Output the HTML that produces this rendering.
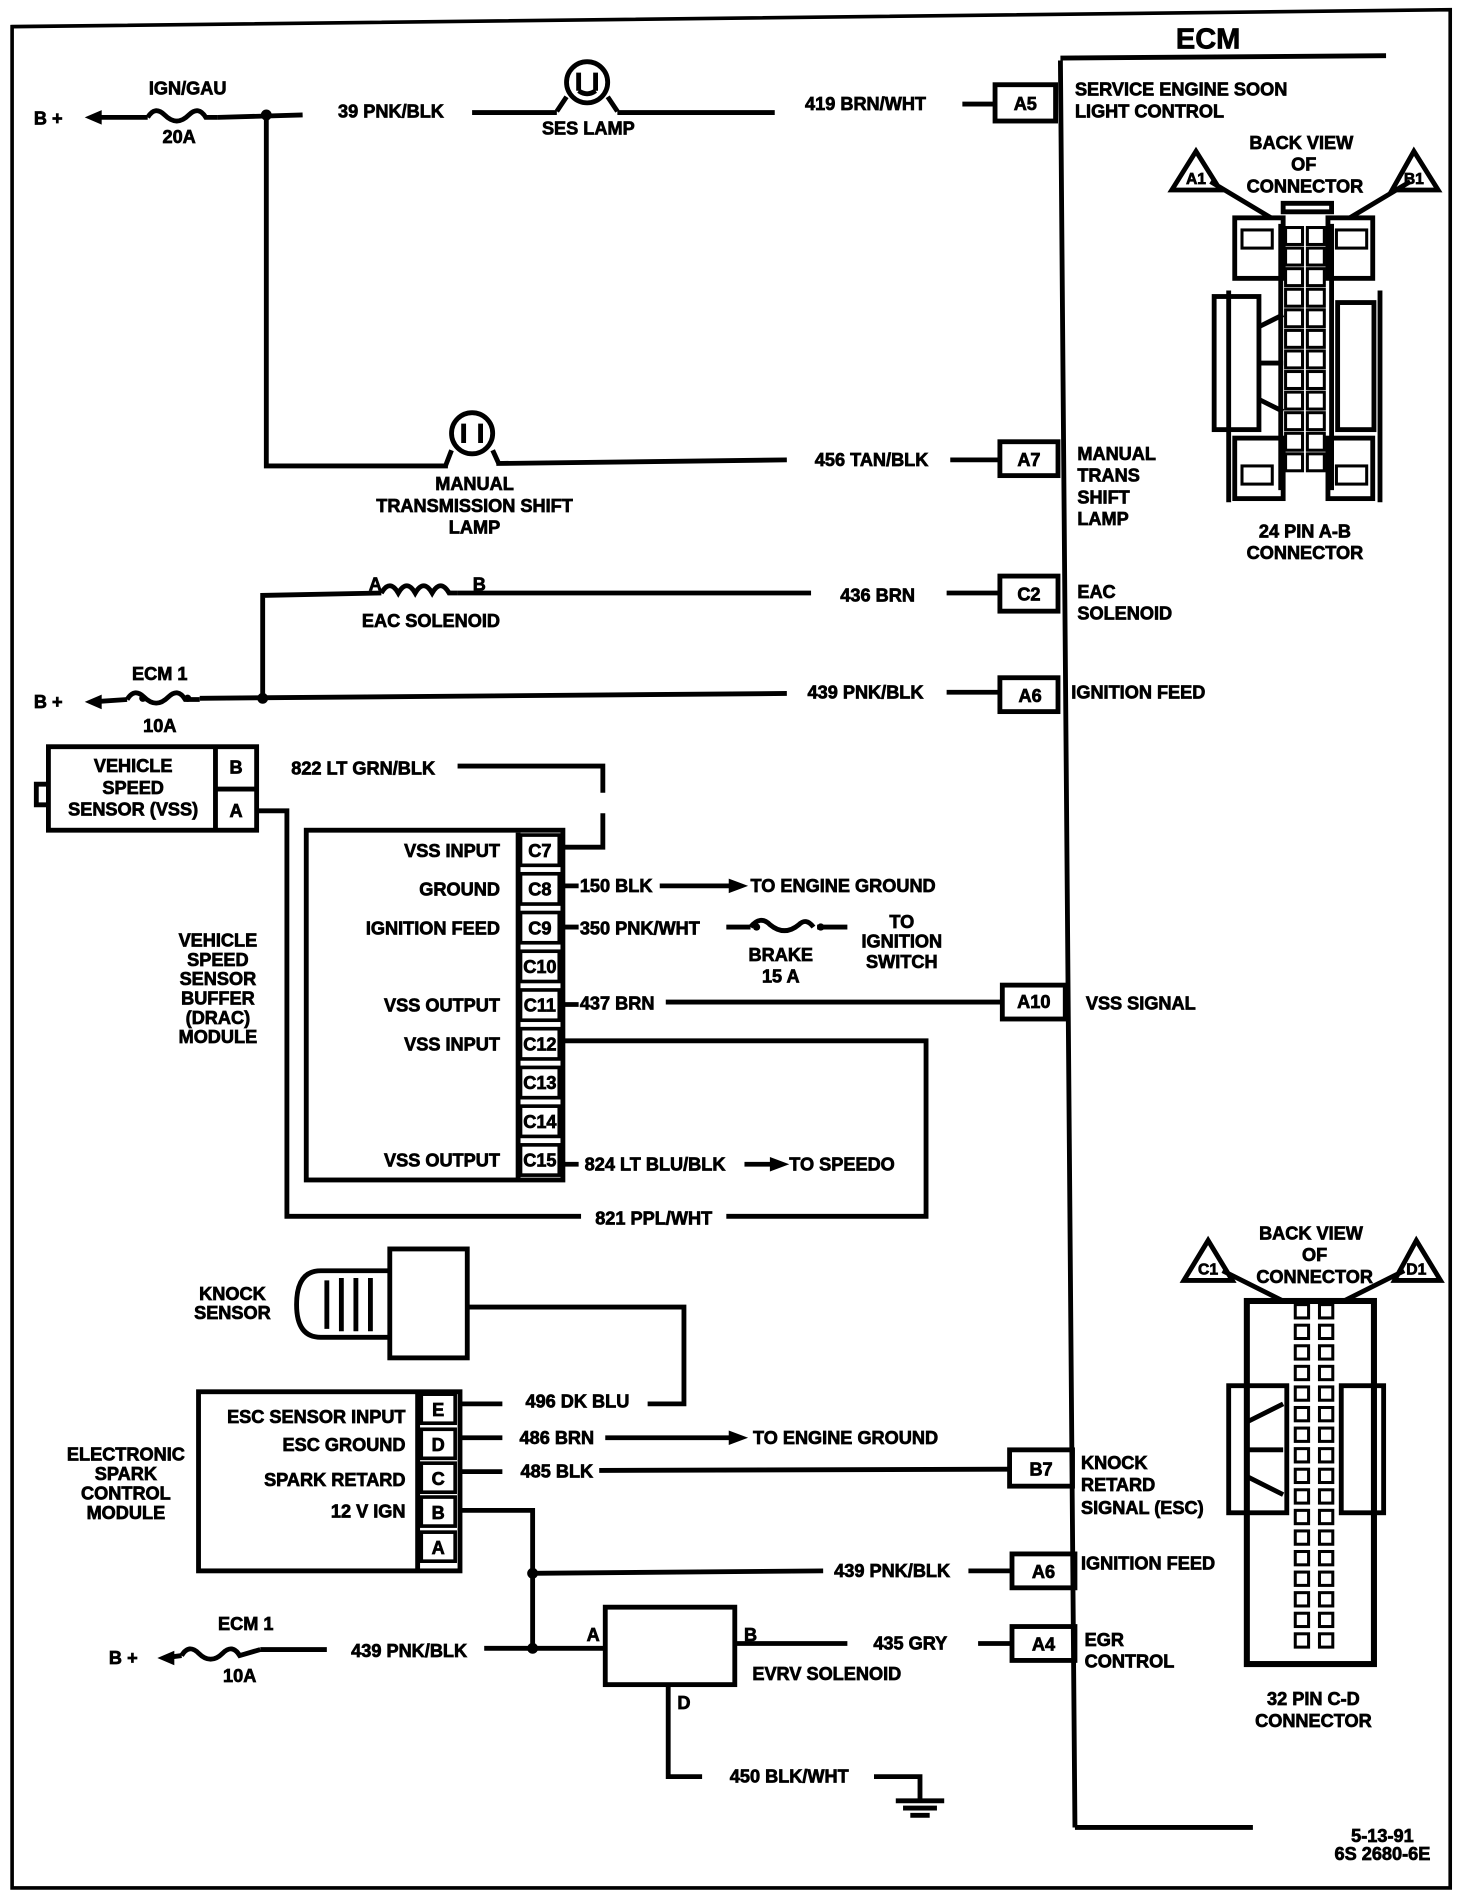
<!DOCTYPE html>
<html><head><meta charset="utf-8"><style>
html,body{margin:0;padding:0;background:#fff;}
svg{display:block;}
text{font-family:"Liberation Sans",sans-serif;font-weight:bold;font-size:15px;fill:#000;stroke:#000;stroke-width:0.6;}
.c{text-anchor:middle}.r{text-anchor:end}
</style></head><body>
<svg width="1472" height="1894" viewBox="0 0 1216 1565" preserveAspectRatio="none" xmlns="http://www.w3.org/2000/svg">
<g fill="none" stroke="#000" stroke-width="4">
<path d="M10 22 L1198 8 L1198 1560 L10 1560 Z" stroke-width="3"/>
<path d="M876 50 L888 1510 M876 48 L1145 46 M888 1510 L1035 1510"/>
<path d="M75 97 L122 97 M180 97 L250 95 M390 93 L460 93 M510 93 L640 93 M795 86 L822 86"/>
<path d="M122 97 q6 -10 14 -2 q10 10 20 0 q8 -8 14 2 l10 0"/>
<rect x="822" y="70" width="50" height="30"/>
<circle cx="485" cy="68" r="17"/>
<path d="M478 60 L478 75 M492 60 L492 75 M478 75 q7 5 14 0"/>
<path d="M468 80 L460 92 M502 80 L510 92"/>
<path d="M220 95 L220 385 L370 385 M410 383 L650 380 M785 380 L826 380"/>
<circle cx="390" cy="358" r="17"/>
<path d="M383 350 L383 366 M397 350 L397 366"/>
<path d="M373 372 L368 385 M407 372 L412 383"/>
<rect x="826" y="365" width="48" height="28"/>
<path d="M217 578 L217 492 L315 490 M378 490 L670 490 M782 490 L826 490"/>
<path d="M315 490 q7 -12 14 0 q7 -12 14 0 q7 -12 14 0 q7 -12 14 0 l7 0"/>
<rect x="826" y="476" width="48" height="29"/>
<path d="M75 580 L105 578 M165 577 L650 573 M782 572 L826 572"/>
<path d="M105 578 q6 -10 14 -2 q10 10 20 0 q8 -8 14 2 l12 0"/>
<rect x="826" y="560" width="48" height="28"/>
<rect x="40" y="617" width="172" height="69"/>
<path d="M178 617 L178 686 M178 652 L212 652 M40 648 L30 648 L30 665 L40 665"/>
<path d="M378 633 L498 633 L498 655 M498 672 L498 700 L462 700"/>
<path d="M212 670 L237 670 L237 1005 L480 1005 M600 1005 L765 1005 L765 860 L465 860"/>
<rect x="253" y="686" width="212" height="289"/>
<path d="M428 688 L428 974"/>
<g stroke-width="3">
<rect x="430" y="690" width="32" height="25"/><rect x="430" y="722" width="32" height="25"/><rect x="430" y="754" width="32" height="25"/><rect x="430" y="786" width="32" height="25"/><rect x="430" y="818" width="32" height="25"/><rect x="430" y="850" width="32" height="25"/><rect x="430" y="882" width="32" height="25"/><rect x="430" y="914" width="32" height="25"/><rect x="430" y="946" width="32" height="25"/>
</g>
<path d="M465 732 L478 732 M545 732 L605 732 M465 766 L478 766 M600 766 L620 766 M675 766 L700 766 M465 830 L478 830 M550 828 L828 828 M465 962 L478 962 M615 962 L640 962"/>
<path d="M620 766 q8 -10 16 -2 q12 10 24 0 q6 -6 12 2"/>
<rect x="828" y="814" width="52" height="28"/>
<rect x="322" y="1032" width="64" height="90"/>
<path d="M322 1050 L265 1050 Q245 1050 245 1078 Q245 1105 265 1105 L322 1105"/>
<path d="M270 1058 L270 1098 M282 1056 L282 1100 M294 1056 L294 1100 M306 1056 L306 1100"/>
<path d="M386 1080 L565 1080 L565 1160 L535 1160"/>
<rect x="164" y="1150" width="216" height="148"/>
<path d="M345 1150 L345 1298"/>
<g stroke-width="3">
<rect x="348" y="1152" width="28" height="24"/><rect x="348" y="1181" width="28" height="24"/><rect x="348" y="1209" width="28" height="24"/><rect x="348" y="1237" width="28" height="24"/><rect x="348" y="1266" width="28" height="24"/>
</g>
<path d="M380 1160 L415 1160 M380 1188 L415 1188 M500 1188 L605 1188 M380 1216 L415 1216 M495 1215 L834 1214"/>
<rect x="834" y="1198" width="52" height="30"/>
<path d="M380 1248 L440 1248 L440 1362 M440 1300 L680 1298 M800 1298 L836 1298"/>
<rect x="836" y="1284" width="52" height="28"/>
<path d="M135 1370 L150 1368 M215 1363 L270 1363 M400 1362 L500 1362"/>
<path d="M150 1368 q6 -10 14 -2 q10 10 20 0 q8 -8 14 2 l17 -5"/>
<rect x="500" y="1328" width="107" height="64"/>
<path d="M607 1358 L700 1358 M808 1358 L836 1358"/>
<rect x="836" y="1344" width="52" height="28"/>
<path d="M552 1392 L552 1468 L580 1468 M722 1468 L760 1468 L760 1488 M740 1488 L780 1488 M746 1494 L774 1494 M752 1500 L768 1500"/>
<path d="M968 157 L988 125 L1008 157 Z M1150 157 L1168 125 L1188 157 Z M1000 150 L1050 180 M1165 150 L1115 180"/>
<rect x="1020" y="180" width="40" height="50"/><rect x="1097" y="180" width="37" height="50"/>
<rect x="1003" y="245" width="37" height="110"/><rect x="1105" y="250" width="30" height="105"/>
<rect x="1020" y="362" width="40" height="50"/><rect x="1097" y="362" width="37" height="50"/>
<path d="M1060 168 L1100 168 L1100 175 L1060 175 Z"/>
<path d="M1040 270 L1060 260 M1040 300 L1060 300 M1040 330 L1060 340"/>
<path d="M1015 240 L1015 415 M1140 240 L1140 415 M1058 185 L1058 405 M1100 185 L1100 405"/>
<path d="M978 1058 L998 1025 L1018 1058 Z M1152 1058 L1170 1025 L1190 1058 Z M1010 1050 L1060 1075 M1160 1050 L1110 1075"/>
<rect x="1030" y="1075" width="105" height="300" stroke-width="5"/>
<rect x="1015" y="1145" width="48" height="105"/><rect x="1108" y="1145" width="35" height="105"/>
<path d="M1030 1175 L1060 1160 M1030 1198 L1060 1198 M1030 1220 L1060 1235"/>
</g>
<g fill="none" stroke="#000" stroke-width="2.5">
<rect x="1062" y="188" width="14" height="14"/><rect x="1080" y="188" width="14" height="14"/>
<rect x="1062" y="205" width="14" height="14"/><rect x="1080" y="205" width="14" height="14"/>
<rect x="1062" y="222" width="14" height="14"/><rect x="1080" y="222" width="14" height="14"/>
<rect x="1062" y="239" width="14" height="14"/><rect x="1080" y="239" width="14" height="14"/>
<rect x="1062" y="256" width="14" height="14"/><rect x="1080" y="256" width="14" height="14"/>
<rect x="1062" y="273" width="14" height="14"/><rect x="1080" y="273" width="14" height="14"/>
<rect x="1062" y="290" width="14" height="14"/><rect x="1080" y="290" width="14" height="14"/>
<rect x="1062" y="307" width="14" height="14"/><rect x="1080" y="307" width="14" height="14"/>
<rect x="1062" y="324" width="14" height="14"/><rect x="1080" y="324" width="14" height="14"/>
<rect x="1062" y="341" width="14" height="14"/><rect x="1080" y="341" width="14" height="14"/>
<rect x="1062" y="358" width="14" height="14"/><rect x="1080" y="358" width="14" height="14"/>
<rect x="1062" y="375" width="14" height="14"/><rect x="1080" y="375" width="14" height="14"/>
<rect x="1026" y="190" width="25" height="15"/><rect x="1104" y="190" width="25" height="15"/>
<rect x="1026" y="385" width="25" height="15"/><rect x="1104" y="385" width="25" height="15"/>
</g>
<g fill="none" stroke="#000" stroke-width="2.5">
<rect x="1070" y="1078" width="11" height="11"/><rect x="1090" y="1078" width="11" height="11"/>
<rect x="1070" y="1095" width="11" height="11"/><rect x="1090" y="1095" width="11" height="11"/>
<rect x="1070" y="1112" width="11" height="11"/><rect x="1090" y="1112" width="11" height="11"/>
<rect x="1070" y="1129" width="11" height="11"/><rect x="1090" y="1129" width="11" height="11"/>
<rect x="1070" y="1146" width="11" height="11"/><rect x="1090" y="1146" width="11" height="11"/>
<rect x="1070" y="1163" width="11" height="11"/><rect x="1090" y="1163" width="11" height="11"/>
<rect x="1070" y="1180" width="11" height="11"/><rect x="1090" y="1180" width="11" height="11"/>
<rect x="1070" y="1197" width="11" height="11"/><rect x="1090" y="1197" width="11" height="11"/>
<rect x="1070" y="1214" width="11" height="11"/><rect x="1090" y="1214" width="11" height="11"/>
<rect x="1070" y="1231" width="11" height="11"/><rect x="1090" y="1231" width="11" height="11"/>
<rect x="1070" y="1248" width="11" height="11"/><rect x="1090" y="1248" width="11" height="11"/>
<rect x="1070" y="1265" width="11" height="11"/><rect x="1090" y="1265" width="11" height="11"/>
<rect x="1070" y="1282" width="11" height="11"/><rect x="1090" y="1282" width="11" height="11"/>
<rect x="1070" y="1299" width="11" height="11"/><rect x="1090" y="1299" width="11" height="11"/>
<rect x="1070" y="1316" width="11" height="11"/><rect x="1090" y="1316" width="11" height="11"/>
<rect x="1070" y="1333" width="11" height="11"/><rect x="1090" y="1333" width="11" height="11"/>
<rect x="1070" y="1350" width="11" height="11"/><rect x="1090" y="1350" width="11" height="11"/>
</g>
<g fill="#000">
<circle cx="220" cy="95" r="4.5"/><circle cx="217" cy="577" r="4.5"/><circle cx="440" cy="1300" r="4.5"/><circle cx="440" cy="1362" r="4.5"/>
<circle cx="155" cy="577" r="3"/><circle cx="118" cy="577" r="3"/><circle cx="625" cy="766" r="3"/><circle cx="678" cy="766" r="3"/>
<path d="M70 97 L84 91 L84 103 Z M70 580 L84 574 L84 586 Z M130 1370 L144 1364 L144 1376 Z"/>
<path d="M618 732 L602 726 L602 738 Z M652 962 L636 956 L636 968 Z M618 1188 L602 1182 L602 1194 Z"/>
</g>
<text x="998" y="40" class="c" style="font-size:24px">ECM</text>
<text x="28" y="103">B +</text>
<text x="155" y="78" class="c">IGN/GAU</text><text x="148" y="118" class="c">20A</text>
<text x="323" y="97" class="c">39 PNK/BLK</text>
<text x="486" y="111" class="c">SES LAMP</text>
<text x="715" y="91" class="c">419 BRN/WHT</text>
<text x="847" y="91" class="c">A5</text>
<text x="888" y="79">SERVICE ENGINE SOON</text><text x="888" y="97">LIGHT CONTROL</text>
<text x="1075" y="123" class="c">BACK VIEW</text><text x="1077" y="141" class="c">OF</text><text x="1078" y="159" class="c">CONNECTOR</text>
<text x="988" y="152" class="c" style="font-size:13px">A1</text><text x="1168" y="152" class="c" style="font-size:13px">B1</text>
<text x="392" y="405" class="c">MANUAL</text><text x="392" y="423" class="c">TRANSMISSION SHIFT</text><text x="392" y="441" class="c">LAMP</text>
<text x="720" y="385" class="c">456 TAN/BLK</text><text x="850" y="385" class="c">A7</text>
<text x="890" y="380">MANUAL</text><text x="890" y="398">TRANS</text><text x="890" y="416">SHIFT</text><text x="890" y="434">LAMP</text>
<text x="1078" y="444" class="c">24 PIN  A-B</text><text x="1078" y="462" class="c">CONNECTOR</text>
<text x="310" y="488" class="c">A</text><text x="396" y="488" class="c">B</text>
<text x="356" y="518" class="c">EAC SOLENOID</text>
<text x="725" y="497" class="c">436 BRN</text><text x="850" y="496" class="c">C2</text>
<text x="890" y="494">EAC</text><text x="890" y="512">SOLENOID</text>
<text x="28" y="585">B +</text>
<text x="132" y="562" class="c">ECM 1</text><text x="132" y="605" class="c">10A</text>
<text x="715" y="577" class="c">439 PNK/BLK</text><text x="851" y="580" class="c">A6</text>
<text x="885" y="577">IGNITION FEED</text>
<text x="110" y="638" class="c">VEHICLE</text><text x="110" y="656" class="c">SPEED</text><text x="110" y="674" class="c">SENSOR (VSS)</text>
<text x="195" y="639" class="c">B</text><text x="195" y="675" class="c">A</text>
<text x="300" y="640" class="c">822 LT GRN/BLK</text>
<text x="413" y="708" class="r">VSS INPUT</text><text x="413" y="740" class="r">GROUND</text><text x="413" y="772" class="r">IGNITION FEED</text>
<text x="413" y="836" class="r">VSS OUTPUT</text><text x="413" y="868" class="r">VSS INPUT</text><text x="413" y="964" class="r">VSS OUTPUT</text>
<text x="446" y="708" class="c">C7</text><text x="446" y="740" class="c">C8</text><text x="446" y="772" class="c">C9</text><text x="446" y="804" class="c">C10</text><text x="446" y="836" class="c">C11</text><text x="446" y="868" class="c">C12</text><text x="446" y="900" class="c">C13</text><text x="446" y="932" class="c">C14</text><text x="446" y="964" class="c">C15</text>
<text x="479" y="737">150 BLK</text><text x="620" y="737">TO ENGINE GROUND</text>
<text x="479" y="772">350 PNK/WHT</text>
<text x="645" y="794" class="c">BRAKE</text><text x="645" y="812" class="c">15 A</text>
<text x="745" y="767" class="c">TO</text><text x="745" y="783" class="c">IGNITION</text><text x="745" y="800" class="c">SWITCH</text>
<text x="479" y="834">437 BRN</text><text x="854" y="833" class="c">A10</text><text x="897" y="834">VSS SIGNAL</text>
<text x="483" y="967">824 LT BLU/BLK</text><text x="652" y="967">TO SPEEDO</text>
<text x="540" y="1012" class="c">821 PPL/WHT</text>
<text x="180" y="782" class="c">VEHICLE</text><text x="180" y="798" class="c">SPEED</text><text x="180" y="814" class="c">SENSOR</text><text x="180" y="830" class="c">BUFFER</text><text x="180" y="846" class="c">(DRAC)</text><text x="180" y="862" class="c">MODULE</text>
<text x="1083" y="1024" class="c">BACK VIEW</text><text x="1086" y="1042" class="c">OF</text><text x="1086" y="1060" class="c">CONNECTOR</text>
<text x="998" y="1053" class="c" style="font-size:13px">C1</text><text x="1170" y="1053" class="c" style="font-size:13px">D1</text>
<text x="192" y="1074" class="c">KNOCK</text><text x="192" y="1090" class="c">SENSOR</text>
<text x="335" y="1176" class="r">ESC SENSOR INPUT</text><text x="335" y="1199" class="r">ESC GROUND</text><text x="335" y="1228" class="r">SPARK RETARD</text><text x="335" y="1254" class="r">12 V  IGN</text>
<text x="362" y="1170" class="c">E</text><text x="362" y="1199" class="c">D</text><text x="362" y="1227" class="c">C</text><text x="362" y="1255" class="c">B</text><text x="362" y="1284" class="c">A</text>
<text x="477" y="1163" class="c">496 DK BLU</text><text x="460" y="1193" class="c">486 BRN</text><text x="622" y="1193">TO ENGINE GROUND</text>
<text x="460" y="1221" class="c">485 BLK</text><text x="860" y="1219" class="c">B7</text>
<text x="893" y="1214">KNOCK</text><text x="893" y="1232">RETARD</text><text x="893" y="1251">SIGNAL (ESC)</text>
<text x="104" y="1207" class="c">ELECTRONIC</text><text x="104" y="1223" class="c">SPARK</text><text x="104" y="1239" class="c">CONTROL</text><text x="104" y="1255" class="c">MODULE</text>
<text x="737" y="1303" class="c">439 PNK/BLK</text><text x="862" y="1304" class="c">A6</text><text x="893" y="1297">IGNITION FEED</text>
<text x="90" y="1375">B +</text>
<text x="203" y="1347" class="c">ECM 1</text><text x="198" y="1390" class="c">10A</text>
<text x="338" y="1369" class="c">439 PNK/BLK</text>
<text x="490" y="1356" class="c">A</text><text x="620" y="1356" class="c">B</text>
<text x="752" y="1363" class="c">435 GRY</text><text x="862" y="1364" class="c">A4</text>
<text x="896" y="1360">EGR</text><text x="896" y="1378">CONTROL</text>
<text x="683" y="1388" class="c">EVRV SOLENOID</text>
<text x="565" y="1412" class="c">D</text>
<text x="652" y="1473" class="c">450 BLK/WHT</text>
<text x="1085" y="1409" class="c">32 PIN C-D</text><text x="1085" y="1427" class="c">CONNECTOR</text>
<text x="1142" y="1522" class="c">5-13-91</text><text x="1142" y="1537" class="c">6S 2680-6E</text>
</svg>
</body></html>
